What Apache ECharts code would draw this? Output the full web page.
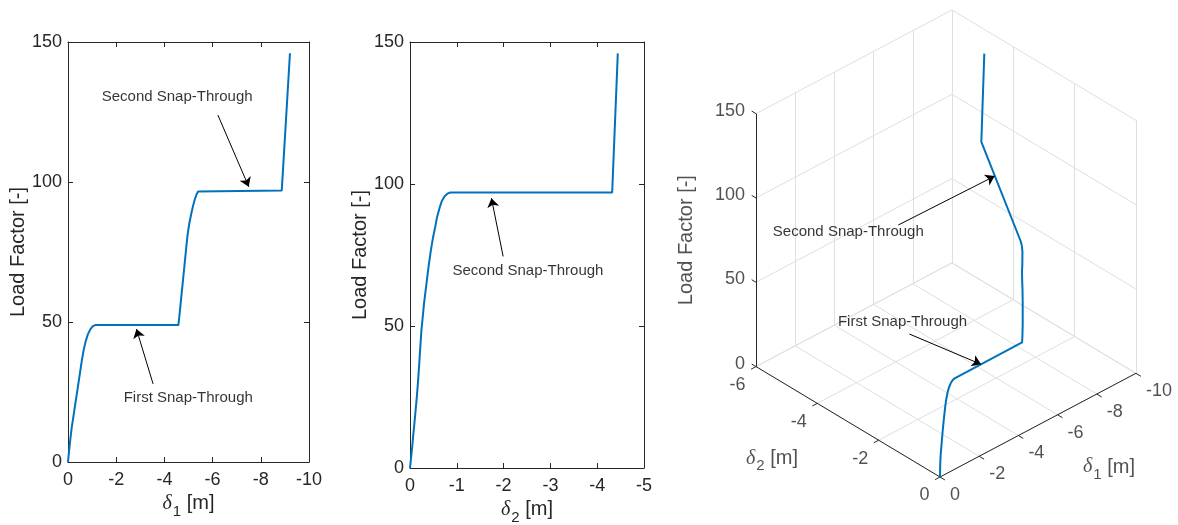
<!DOCTYPE html>
<html>
<head>
<meta charset="utf-8">
<script src="https://cdn.jsdelivr.net/npm/echarts@6/dist/echarts.min.js"></script>
<style>
  html, body { margin: 0; padding: 0; background: #ffffff; }
  #chart { width: 1178px; height: 525px; }
</style>
</head>
<body>
<div id="chart"></div>
<script>
// Equilibrium path of the two-DOF snap-through model (load factor vs. displacements)
const loadFactor = [0, 4, 8, 12, 16, 20, 24, 28, 32, 36, 40, 43, 45.5, 47.3, 48.4, 48.9,
                    48.9, 52, 58, 64, 70, 76, 81, 85, 88.5, 91.5, 94, 95.7, 96.6, 97,
                    97, 146];
const delta1 = [0, -0.045, -0.095, -0.15, -0.22, -0.29, -0.36, -0.43, -0.50, -0.57, -0.65, -0.73, -0.82, -0.92, -1.02, -1.13,
                -4.58, -4.62, -4.69, -4.76, -4.83, -4.90, -4.96, -5.03, -5.11, -5.19, -5.27, -5.34, -5.40, -5.46,
                -8.87, -9.21];
const delta2 = [0, -0.025, -0.05, -0.072, -0.095, -0.118, -0.14, -0.16, -0.178, -0.195, -0.21, -0.222, -0.232, -0.239, -0.243, -0.245,
                -0.25, -0.265, -0.30, -0.345, -0.39, -0.44, -0.49, -0.54, -0.58, -0.63, -0.68, -0.74, -0.80, -0.86,
                -4.32, -4.44];

// Axis ticks
const delta1Ticks = [0, -2, -4, -6, -8, -10];
const delta2Ticks = [0, -2, -4, -6];
const loadTicks = [0, 50, 100, 150];

// Annotations: [text, text position, arrow tail, arrow head]
const FIRST = 'First Snap-Through';
const SECOND = 'Second Snap-Through';
const notes1 = [
  [SECOND, [-4.53, 130.5], [-6.22, 123.9], [-7.5, 98.3]],
  [FIRST,  [-4.99, 23.0],  [-3.53, 27.9],  [-2.84, 47.5]]
];
const notes2 = [
  [SECOND, [-2.52, 69.4], [-1.99, 74.5], [-1.74, 95.0]]
];
// 3-D panel: text and arrow tails in panel-normalised units, heads on the path (δ1, δ2, LF)
const notes3 = [
  [SECOND, [0.351, 0.5575], [0.4494, 0.5714], [-7.69, -3.13, 97]],
  [FIRST,  [0.4577, 0.3861], [0.4711, 0.3638], [-2.48, -0.245, 48.9]]
];

const FONT = '"Liberation Sans", Arial, Helvetica, sans-serif';
const AX = '#262626';
const BLUE = '#0072BD';

// ---------- 3-D view (orthographic, azimuth / elevation) ----------
const PANEL3 = { left: 670, top: 0, width: 508, height: 525 };
const VIEW = { az: 43.2, el: 34.3, side: 268.8, zAspect: 1.139, origin: [940, 477] };
const BOX = { d1: -10, d2: -6, lf: 150 };
const rad = Math.PI / 180;
const cA = Math.cos(VIEW.az * rad), sA = Math.sin(VIEW.az * rad);
const cE = Math.cos(VIEW.el * rad), sE = Math.sin(VIEW.el * rad);
function project(d1, d2, lf) {
  const a = d1 / BOX.d1, b = d2 / BOX.d2, c = lf / BOX.lf;
  const X = VIEW.side * (a * cA - b * sA);
  const Y = VIEW.side * ((a * sA + b * cA) * sE + c * VIEW.zAspect * cE);
  const px = VIEW.origin[0] + X, py = VIEW.origin[1] - Y;
  return [(px - PANEL3.left) / PANEL3.width, (PANEL3.top + PANEL3.height - py) / PANEL3.height];
}
const seg = (p, q) => ({ coords: [project(...p), project(...q)] });

// grid on floor and the two back walls
const gridSegs = [];
delta1Ticks.forEach(t => {
  gridSegs.push(seg([t, 0, 0], [t, BOX.d2, 0]));
  gridSegs.push(seg([t, BOX.d2, 0], [t, BOX.d2, BOX.lf]));
});
delta2Ticks.forEach(t => {
  gridSegs.push(seg([0, t, 0], [BOX.d1, t, 0]));
  gridSegs.push(seg([BOX.d1, t, 0], [BOX.d1, t, BOX.lf]));
});
loadTicks.forEach(L => {
  gridSegs.push(seg([0, BOX.d2, L], [BOX.d1, BOX.d2, L]));
  gridSegs.push(seg([BOX.d1, 0, L], [BOX.d1, BOX.d2, L]));
});

// axis lines and outward ticks
const axisSegs = [
  seg([0, BOX.d2, 0], [0, BOX.d2, BOX.lf]),
  seg([0, 0, 0], [0, BOX.d2, 0]),
  seg([0, 0, 0], [BOX.d1, 0, 0])
];
loadTicks.forEach(L => axisSegs.push(seg([0, BOX.d2, L], [0, BOX.d2 - 0.14, L])));
delta2Ticks.forEach(t => axisSegs.push(seg([0, t, 0], [0.25, t, 0])));
delta1Ticks.forEach(t => axisSegs.push(seg([t, 0, 0], [t, 0.16, 0])));

// tick labels of the 3-D box
const labels3 = [];
loadTicks.forEach(L => labels3.push({ value: project(0, BOX.d2, L), name: String(L), al: 'right', off: [-11, -3] }));
delta2Ticks.forEach(t => labels3.push({ value: project(0, t, 0), name: String(t), al: 'right', off: [-10.5, 18.5] }));
delta1Ticks.forEach(t => labels3.push({ value: project(t, 0, 0), name: String(t), al: 'left', off: [10, 18] }));

const path3 = loadFactor.map((lf, i) => project(delta1[i], delta2[i], lf));

// ---------- helpers ----------
const deltaRich = {
  d: { fontFamily: '"Liberation Serif", "DejaVu Serif", serif', fontStyle: 'italic', fontSize: 20, color: AX, verticalAlign: 'top', lineHeight: 22 },
  s: { fontFamily: FONT, fontSize: 15, color: AX, verticalAlign: 'top', lineHeight: 16, padding: [10, 0, 0, 1] },
  t: { fontFamily: FONT, fontSize: 20, color: AX, verticalAlign: 'top', lineHeight: 22 }
};
const deltaName = n => '{d|δ}{s|' + n + '}{t| [m]}';

function xAxisPair(grid, min, interval, name, gap) {
  const base = {
    gridIndex: grid, type: 'value', min: min, max: 0, interval: interval, inverse: true,
    axisLine: { show: true, onZero: false, lineStyle: { color: AX, width: 1 } },
    axisTick: { show: true, inside: true, length: 5, lineStyle: { color: AX, width: 1 } },
    splitLine: { show: false }
  };
  return [
    Object.assign({}, base, {
      position: 'bottom',
      axisLabel: { show: true, fontSize: 18, color: AX, fontFamily: FONT, margin: 9 },
      name: name, nameLocation: 'middle', nameGap: gap,
      nameTextStyle: { rich: deltaRich }
    }),
    Object.assign({}, base, { position: 'top', axisLabel: { show: false } })
  ];
}
function yAxisPair(grid) {
  const base = {
    gridIndex: grid, type: 'value', min: 0, max: 150, interval: 50,
    axisLine: { show: true, onZero: false, lineStyle: { color: AX, width: 1 } },
    axisTick: { show: true, inside: true, length: 5, lineStyle: { color: AX, width: 1 } },
    splitLine: { show: false }
  };
  return [
    Object.assign({}, base, {
      position: 'left',
      axisLabel: { show: true, fontSize: 18, color: AX, fontFamily: FONT, margin: 6 },
      name: 'Load Factor [-]', nameLocation: 'middle', nameGap: 38,
      nameTextStyle: { fontSize: 20, color: AX, fontFamily: FONT }
    }),
    Object.assign({}, base, { position: 'right', axisLabel: { show: false } })
  ];
}

function noteSeries(notes, xi, yi, toTip) {
  return [
    {
      type: 'lines', coordinateSystem: 'cartesian2d', xAxisIndex: xi, yAxisIndex: yi,
      silent: true, z: 6, polyline: false,
      symbol: ['none', 'arrow'], symbolSize: 9,
      lineStyle: { color: '#000', width: 1, opacity: 1, curveness: 0 },
      data: notes.map(n => ({ coords: [n[2], toTip(n[3])] }))
    },
    {
      type: 'scatter', xAxisIndex: xi, yAxisIndex: yi, silent: true, z: 6,
      symbolSize: 1, itemStyle: { color: 'rgba(0,0,0,0)' },
      label: { show: true, position: 'inside', formatter: '{b}', color: '#000',
               fontSize: 15, fontFamily: FONT },
      data: notes.map(n => ({ name: n[0], value: n[1] }))
    }
  ];
}

const xA = xAxisPair(0, -10, 2, deltaName(1), 31).concat(xAxisPair(1, -5, 1, deltaName(2), 31));
xA.push({ gridIndex: 2, type: 'value', min: 0, max: 1, show: false });
const yA = yAxisPair(0).concat(yAxisPair(1));
yA.push({ gridIndex: 2, type: 'value', min: 0, max: 1, show: false });

const option = {
  animation: false,
  backgroundColor: '#ffffff',
  textStyle: { fontFamily: FONT },
  grid: [
    { left: 68, top: 42, width: 241, height: 420, outerBoundsMode: 'none' },
    { left: 410, top: 42, width: 234, height: 426, outerBoundsMode: 'none' },
    { left: PANEL3.left, top: PANEL3.top, width: PANEL3.width, height: PANEL3.height, outerBoundsMode: 'none' }
  ],
  xAxis: xA,
  yAxis: yA,
  series: [
    {
      type: 'line', xAxisIndex: 0, yAxisIndex: 0, showSymbol: false, silent: true, z: 5,
      lineStyle: { color: BLUE, width: 2 },
      data: loadFactor.map((lf, i) => [delta1[i], lf])
    },
    {
      type: 'line', xAxisIndex: 2, yAxisIndex: 2, showSymbol: false, silent: true, z: 5,
      lineStyle: { color: BLUE, width: 2 },
      data: loadFactor.map((lf, i) => [delta2[i], lf])
    },
    // 3-D box
    {
      type: 'lines', coordinateSystem: 'cartesian2d', xAxisIndex: 4, yAxisIndex: 4,
      silent: true, z: 1, polyline: false,
      lineStyle: { color: '#dfdfdf', width: 1, opacity: 1, curveness: 0 },
      data: gridSegs
    },
    {
      type: 'lines', coordinateSystem: 'cartesian2d', xAxisIndex: 4, yAxisIndex: 4,
      silent: true, z: 2, polyline: false,
      lineStyle: { color: AX, width: 1, opacity: 1, curveness: 0 },
      data: axisSegs
    },
    {
      type: 'scatter', xAxisIndex: 4, yAxisIndex: 4, silent: true, z: 3,
      symbolSize: 1, itemStyle: { color: 'rgba(0,0,0,0)' },
      data: labels3.map(l => ({
        value: l.value, name: l.name,
        label: { show: true, position: 'inside', formatter: '{b}', align: l.al, verticalAlign: 'middle',
                 offset: l.off, fontSize: 18, color: AX, fontFamily: FONT }
      })).concat([
        { value: project(0, BOX.d2, 75), name: 'Load Factor [-]',
          label: { show: true, position: 'inside', formatter: '{b}', rotate: 90, offset: [0, -70],
                   align: 'center', verticalAlign: 'middle',
                   fontSize: 20, color: AX, fontFamily: FONT } },
        { value: project(0, -3, 0), name: '2',
          label: { show: true, position: 'inside', formatter: deltaName(2), offset: [-76, 38], rich: deltaRich } },
        { value: project(-5, 0, 0), name: '1',
          label: { show: true, position: 'inside', formatter: deltaName(1), offset: [71, 43], rich: deltaRich } }
      ])
    },
    {
      type: 'line', xAxisIndex: 4, yAxisIndex: 4, showSymbol: false, silent: true, z: 5,
      lineStyle: { color: BLUE, width: 2 },
      data: path3
    }
  ]
    .concat(noteSeries(notes1, 0, 0, p => p))
    .concat(noteSeries(notes2, 2, 2, p => p))
    .concat(noteSeries(notes3, 4, 4, p => project(...p)))
};

const chart = echarts.init(document.getElementById('chart'), null, { renderer: 'canvas' });
chart.setOption(option);
</script>
</body>
</html>
